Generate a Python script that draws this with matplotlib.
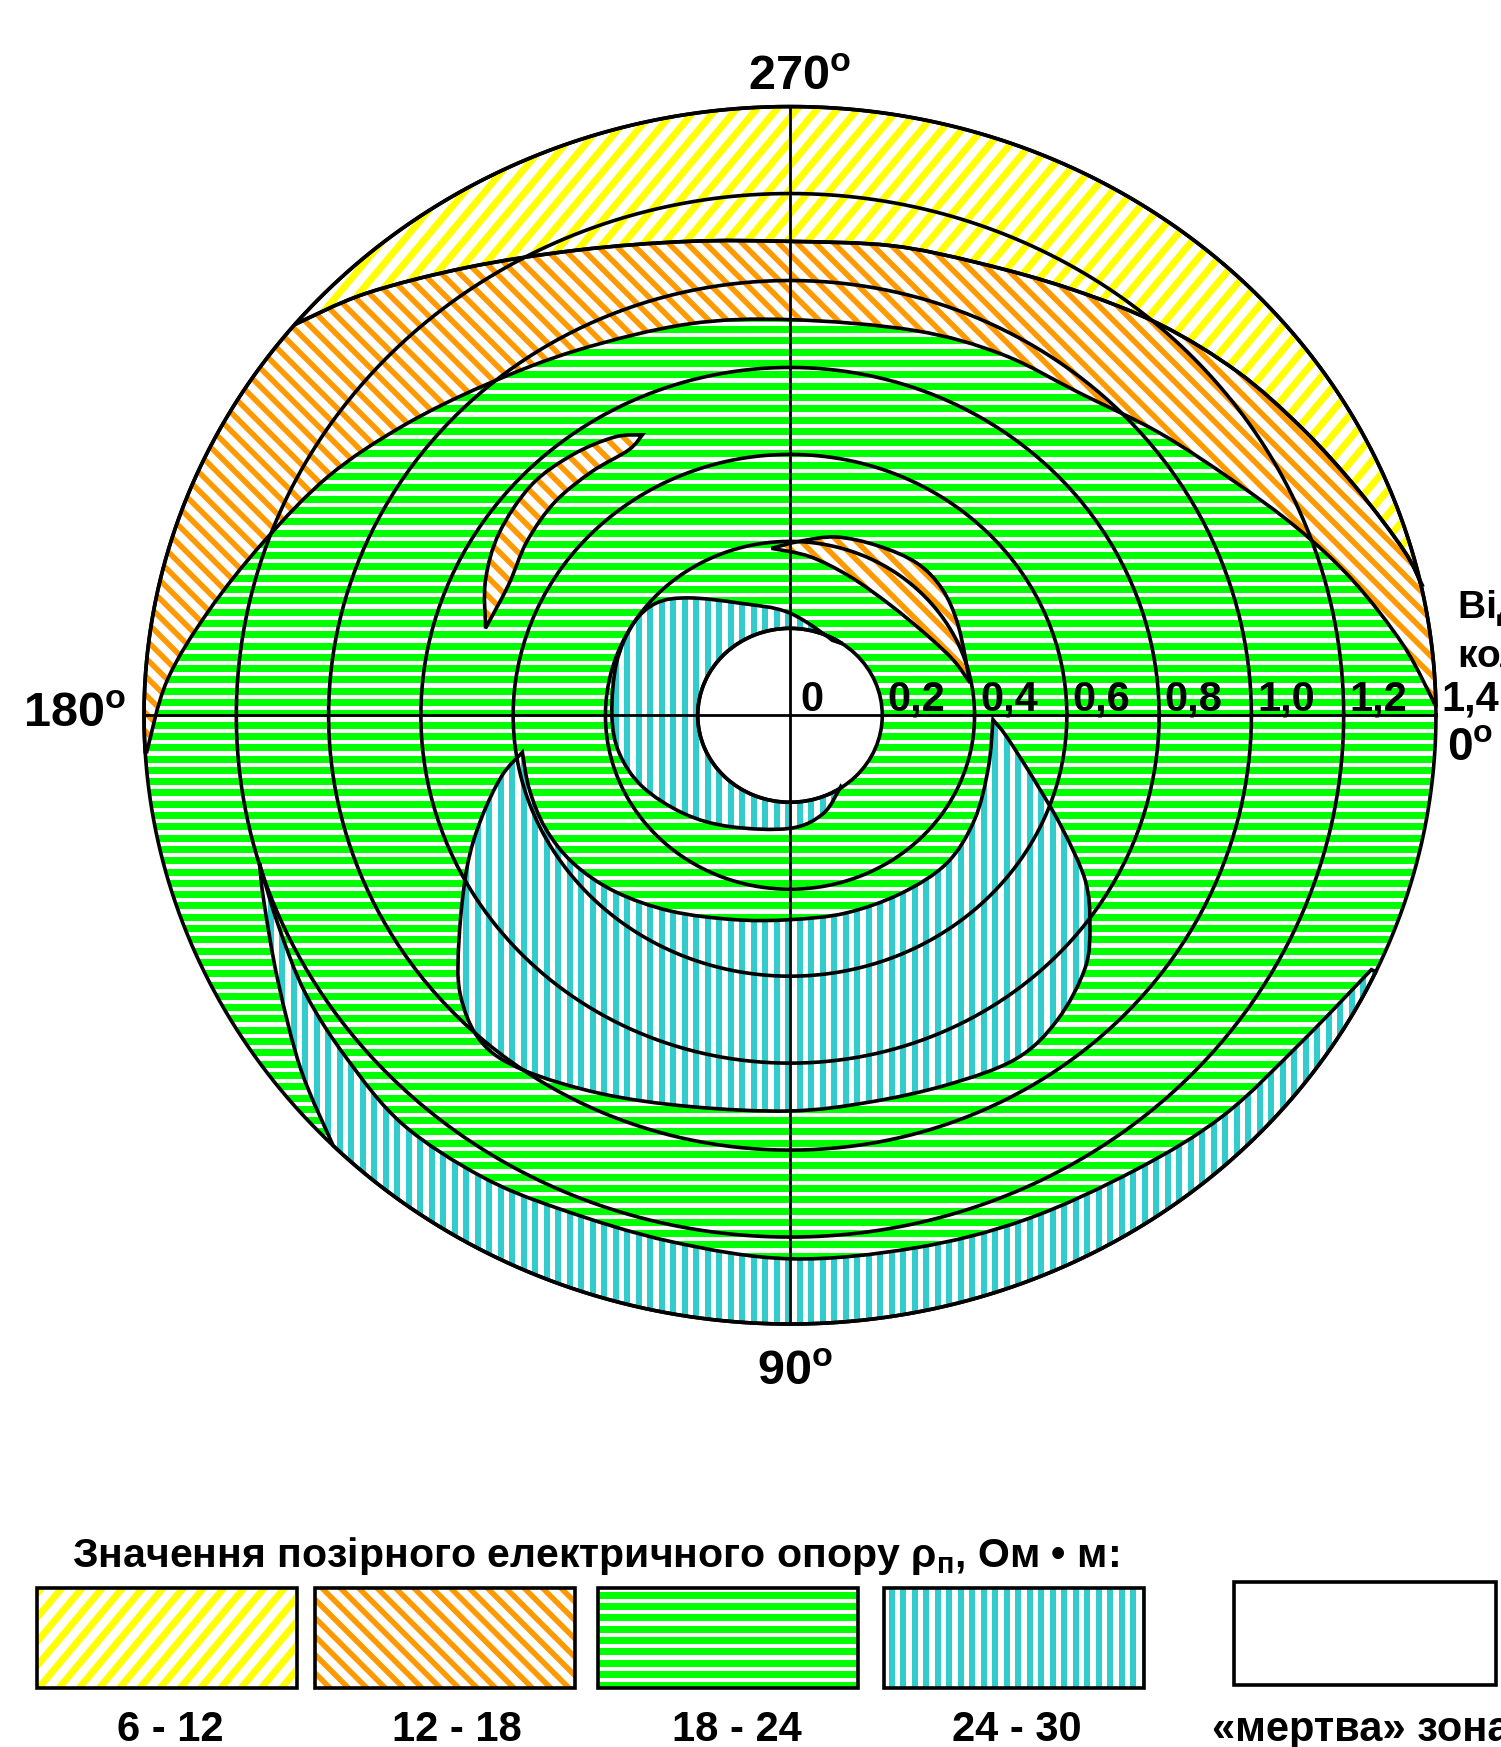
import numpy as np
import matplotlib
matplotlib.use("Agg")
import matplotlib.pyplot as plt
from matplotlib.path import Path
from matplotlib.patches import PathPatch, Rectangle, Circle
from matplotlib.collections import LineCollection

plt.rcParams['font.family'] = ['Liberation Sans', 'DejaVu Sans']
plt.rcParams['font.weight'] = 'bold'
plt.rcParams['mathtext.fontset'] = 'custom'
plt.rcParams['mathtext.rm'] = 'Liberation Sans:bold'
plt.rcParams['mathtext.bf'] = 'Liberation Sans:bold'
plt.rcParams['mathtext.it'] = 'Liberation Sans:bold'

# distance rings, m
R = 1.4
dead_r = 0.2
rings = [0.4, 0.6, 0.8, 1.0, 1.2, 1.4]
ring_label_r = [0.0, 0.2, 0.4, 0.6, 0.8, 1.0, 1.2, 1.4]
ring_labels = ['0', '0,2', '0,4', '0,6', '0,8', '1,0', '1,2', '1,4']

# boundaries (x toward 0deg, y toward 90deg), m
# 6-12 / 12-18 boundary (upper band)
yb_x = [-1.07, -0.92, -0.70, -0.46, -0.22, 0.00, 0.22, 0.41, 0.61, 0.80, 0.97, 1.11, 1.23, 1.33, 1.37]
yb_y = [-0.90, -0.97, -1.03, -1.07, -1.09, -1.09, -1.08, -1.04, -0.98, -0.90, -0.79, -0.66, -0.52, -0.38, -0.30]
# 12-18 / 18-24 boundary
ob_x = [1.40, 1.33, 1.22, 1.10, 0.96, 0.80, 0.63, 0.46, 0.27, 0.00, -0.22, -0.46, -0.66, -0.84, -1.00, -1.14, -1.26, -1.35, -1.394]
ob_y = [-0.02, -0.16, -0.31, -0.43, -0.54, -0.65, -0.74, -0.83, -0.885, -0.91, -0.90, -0.84, -0.76, -0.665, -0.55, -0.40, -0.24, -0.08, 0.084]
# small 12-18 crescent, upper left
o2a_x = [-0.66, -0.66, -0.63, -0.56, -0.47, -0.38, -0.32]
o2a_y = [-0.20, -0.31, -0.42, -0.53, -0.60, -0.64, -0.645]
o2b_x = [-0.32, -0.35, -0.43, -0.51, -0.57, -0.61, -0.66]
o2b_y = [-0.645, -0.61, -0.56, -0.49, -0.40, -0.30, -0.20]
# small 12-18 crescent near the well
o3a_x = [-0.04, 0.02, 0.10, 0.19, 0.275, 0.33, 0.365, 0.39]
o3a_y = [-0.384, -0.40, -0.41, -0.39, -0.35, -0.29, -0.205, -0.075]
o3b_x = [0.39, 0.354, 0.296, 0.217, 0.13, 0.043, -0.04]
o3b_y = [-0.075, -0.127, -0.185, -0.254, -0.319, -0.365, -0.384]
# 24-30 around the dead zone
c1_x = [0.11, 0.0, -0.11, -0.22, -0.29, -0.34, -0.376, -0.386, -0.37, -0.32, -0.23, -0.13, 0.0, 0.072, 0.11]
c1_y = [-0.16, -0.235, -0.258, -0.27, -0.258, -0.21, -0.12, 0.0, 0.087, 0.164, 0.226, 0.256, 0.26, 0.226, 0.164]
# 24-30 lower lobe
c2a_x = [0.44, 0.47, 0.53, 0.59, 0.64, 0.65, 0.64, 0.58, 0.49, 0.34, 0.17, 0.00, -0.215, -0.41, -0.58, -0.67, -0.715, -0.717, -0.70, -0.67, -0.625, -0.58]
c2a_y = [0.01, 0.05, 0.15, 0.26, 0.38, 0.48, 0.58, 0.70, 0.79, 0.85, 0.89, 0.91, 0.90, 0.87, 0.815, 0.75, 0.64, 0.51, 0.35, 0.24, 0.14, 0.085]
c2b_x = [-0.58, -0.565, -0.53, -0.47, -0.38, -0.26, -0.12, 0.0, 0.12, 0.24, 0.34, 0.40, 0.43, 0.44]
c2b_y = [0.085, 0.17, 0.26, 0.34, 0.405, 0.45, 0.47, 0.47, 0.455, 0.41, 0.34, 0.24, 0.12, 0.01]
# 24-30 outer band
c3a_x = [-0.99, -1.06, -1.11, -1.14, -1.15]
c3a_y = [0.99, 0.815, 0.61, 0.43, 0.34]
c3b_x = [-1.15, -1.11, -1.05, -0.96, -0.84, -0.67, -0.50, -0.26, 0.0, 0.27, 0.51, 0.75, 0.94, 1.11, 1.26]
c3b_y = [0.34, 0.48, 0.64, 0.79, 0.94, 1.06, 1.135, 1.21, 1.25, 1.225, 1.16, 1.045, 0.92, 0.75, 0.585]

classes = ['6 - 12', '12 - 18', '18 - 24', '24 - 30']
colors = ['#FFFF00', '#FF9900', '#00FF00', '#33CCCC']
# stripe styles: angle, period px, width px
styles = [(50, 15.5, 7), (-45, 13, 5.5), (0, 11.3, 7), (90, 11.5, 6)]

W_PX, H_PX = 1501, 1747
fig = plt.figure(figsize=(W_PX / 100, H_PX / 100), dpi=100)
ax = fig.add_axes([0.06522, 0.21723, 0.92219, 0.74665])
ax.set_xlim(-1.5, 1.5)
ax.set_ylim(1.5, -1.5)
ax.axis('off')

LW = 2.6


def curve(x, y):
    # Catmull-Rom through the points, as cubic Bezier pieces
    p = np.column_stack([x, y])
    n = len(p)
    verts, codes = [], []
    for i in range(n - 1):
        p0 = p[i - 1] if i > 0 else p[i]
        p1, p2 = p[i], p[i + 1]
        p3 = p[i + 2] if i + 2 < n else p[i + 1]
        verts += [p1 + (p2 - p0) / 6, p2 - (p3 - p1) / 6, p2]
        codes += [Path.CURVE4] * 3
    return verts, codes


def arc(r, p_from, p_to):
    a0 = np.arctan2(p_from[1], p_from[0]) % (2 * np.pi)
    a1 = np.arctan2(p_to[1], p_to[0]) % (2 * np.pi)
    if a1 < a0:
        a1 += 2 * np.pi
    t = np.linspace(a0, a1, 200)
    v = list(np.column_stack([r * np.cos(t), r * np.sin(t)]))
    return v, [Path.LINETO] * len(v)


def region(*parts):
    verts, codes = [], []
    for v, c in parts:
        if not verts:
            verts.append(v[0])
            codes.append(Path.MOVETO)
            if c[0] == Path.LINETO:
                v, c = v[1:], c[1:]
        verts += list(v)
        codes += list(c)
    verts.append(verts[0])
    codes.append(Path.CLOSEPOLY)
    return Path(np.array(verts), codes)


def stripes(parent, clip, color, angle, period, width, z):
    w_in, h_in = fig.get_size_inches()
    a = np.radians(angle)
    d = np.array([np.cos(a), np.sin(a)])
    nrm = np.array([-d[1], d[0]])
    L = np.hypot(w_in, h_in)
    c = np.array([w_in / 2, h_in / 2])
    segs = [[c + o * nrm - L * d, c + o * nrm + L * d]
            for o in np.arange(-L, L, period / 100)]
    lc = LineCollection(segs, colors=color, linewidths=width * 0.72,
                        transform=fig.dpi_scale_trans, zorder=z)
    if parent is ax:
        ax.add_collection(lc, autolim=False)
    else:
        fig.add_artist(lc)
    lc.set_clip_path(clip)


def fill(path, k, z):
    patch = PathPatch(path, facecolor='white', edgecolor='none', zorder=z)
    ax.add_patch(patch)
    ang, per, wid = styles[k]
    stripes(ax, patch, colors[k], ang, per, wid, z + 0.1)
    ax.add_patch(PathPatch(path, facecolor='none', edgecolor='black', lw=LW, zorder=4))


A = (yb_x[0], yb_y[0])
B = (yb_x[-1], yb_y[-1])
C = (ob_x[-1], ob_y[-1])
D = (ob_x[0], ob_y[0])

# whole disk 18-24
disk = Circle((0, 0), R, facecolor='white', edgecolor='none', zorder=1)
ax.add_patch(disk)
stripes(ax, disk, colors[2], *styles[2], 1.1)

# 6-12
fill(region(arc(R, A, B), curve(yb_x[::-1], yb_y[::-1])), 0, 2)
# 12-18
fill(region(arc(R, C, A), curve(yb_x, yb_y), arc(R, B, D), curve(ob_x, ob_y)), 1, 2)
fill(region(curve(o2a_x, o2a_y), curve(o2b_x, o2b_y)), 1, 2)
fill(region(curve(o3a_x, o3a_y), curve(o3b_x, o3b_y)), 1, 2)
# 24-30
fill(region(curve(c1_x, c1_y), arc(dead_r, (c1_x[-1], c1_y[-1]), (c1_x[0], c1_y[0]))), 3, 2)
fill(region(curve(c2a_x, c2a_y), curve(c2b_x, c2b_y)), 3, 2)
F = (c3b_x[-1], c3b_y[-1])
G = (c3a_x[0], c3a_y[0])
fill(region(arc(R, F, G), curve(c3a_x, c3a_y), curve(c3b_x, c3b_y)), 3, 2)

# dead zone
ax.add_patch(Circle((0, 0), dead_r, facecolor='white', edgecolor='black', lw=LW, zorder=3))

# rings and axes
t = np.linspace(0, 2 * np.pi, 721)
for r in rings:
    ax.plot(r * np.cos(t), r * np.sin(t), color='black', lw=LW, zorder=4)
ax.plot([-R, R], [0, 0], color='black', lw=2.0, zorder=4)
ax.plot([0, 0], [-R, R], color='black', lw=2.0, zorder=4)

for r, lab in zip(ring_label_r, ring_labels):
    ax.text(r + (0.022 if r == 0 else 0.012), -0.01, lab, fontsize=30,
            fontweight='bold', ha='left', va='baseline', zorder=5)


def fx(px):
    return px / W_PX


def fy(py):
    return 1 - py / H_PX


deg = [('270', 800, 90, 35), ('90', 795, 1385, 35), ('180', 75, 727, 35), ('0', 1470, 760, 33)]
for s, x, y, fs in deg:
    fig.text(fx(x), fy(y), r'$\mathbf{' + s + r'^{o}}$', fontsize=fs, ha='center', va='baseline')

fig.text(fx(1458), fy(618), 'Відстань від', fontsize=28, fontweight='bold', ha='left', va='baseline')
fig.text(fx(1458), fy(667), 'колодязя, м', fontsize=28, fontweight='bold', ha='left', va='baseline')

# legend
fig.text(fx(72), fy(1567), r'Значення позірного електричного опору ρ$_{\mathbf{п}}$, Ом • м:',
         fontsize=29.5, fontweight='bold', ha='left', va='baseline')
box_x = [37, 315, 598, 884]
lab_x = [170, 457, 737, 1017]
for k in range(4):
    rect = Rectangle((fx(box_x[k]), fy(1688)), 260 / W_PX, 100 / H_PX, transform=fig.transFigure,
                     facecolor='white', edgecolor='none', zorder=1)
    fig.add_artist(rect)
    stripes(fig, rect, colors[k], *styles[k], 1.1)
    fig.add_artist(Rectangle((fx(box_x[k]), fy(1688)), 260 / W_PX, 100 / H_PX,
                             transform=fig.transFigure, facecolor='none', edgecolor='black',
                             lw=LW, zorder=2))
    fig.text(fx(lab_x[k]), fy(1741), classes[k], fontsize=30, fontweight='bold',
             ha='center', va='baseline')
fig.add_artist(Rectangle((fx(1234), fy(1685)), 262 / W_PX, 103 / H_PX, transform=fig.transFigure,
                         facecolor='white', edgecolor='black', lw=LW, zorder=2))
fig.text(fx(1212), fy(1741), '«мертва» зона', fontsize=30, fontweight='bold',
         ha='left', va='baseline')

fig.savefig('out.png', dpi=100)
